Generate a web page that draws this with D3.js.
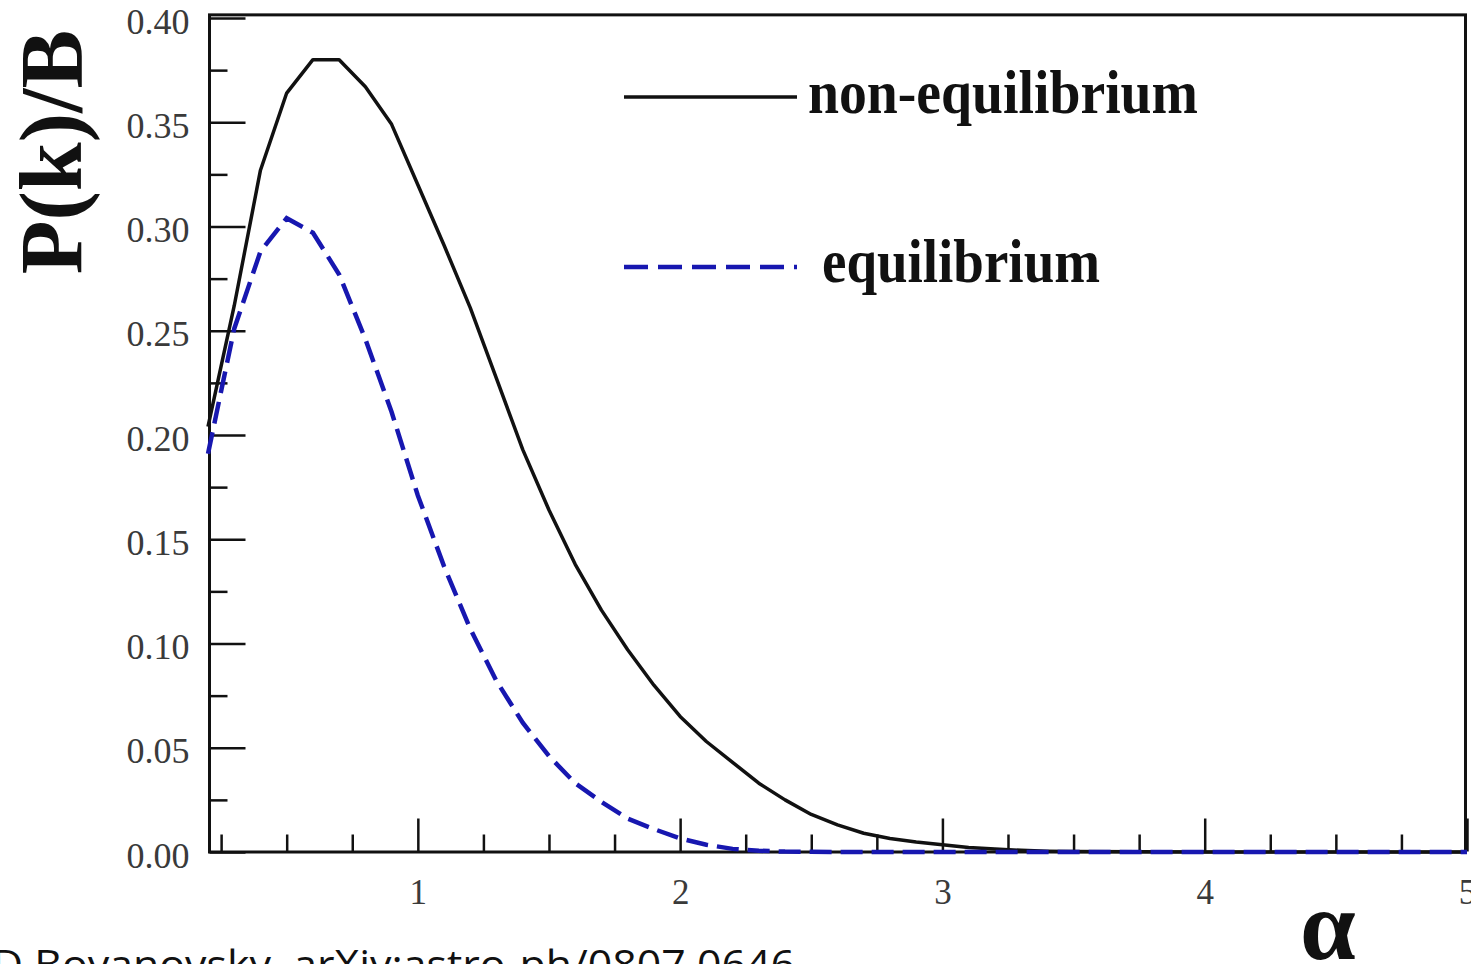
<!DOCTYPE html>
<html>
<head>
<meta charset="utf-8">
<script src="https://cdn.jsdelivr.net/npm/d3@7"></script>
<style>
  body { margin: 0; background: #fff; }
  svg { display: block; }
</style>
</head>
<body>
<div id="chart"></div>
<script>
// values
var alphaVals = [0.2, 0.3, 0.4, 0.5, 0.6, 0.7, 0.8, 0.9, 1.0, 1.1, 1.2, 1.3, 1.4, 1.5, 1.6, 1.7, 1.8, 1.9,
    2.0, 2.1, 2.2, 2.3, 2.4, 2.5, 2.6, 2.7, 2.8, 2.9, 3.0, 3.1, 3.2, 3.3, 3.4, 3.5, 4.0, 4.5, 5.0];
var nonEquilibrium = [0.204, 0.262, 0.327, 0.364, 0.380, 0.380, 0.367, 0.349, 0.320, 0.291, 0.261, 0.227, 0.193, 0.164,
    0.138, 0.116, 0.097, 0.080, 0.065, 0.053, 0.043, 0.033, 0.025, 0.018, 0.013, 0.009, 0.0065, 0.0048, 0.0035,
    0.0022, 0.0014, 0.0008, 0.0004, 0.0002, 0, 0, 0];
var equilibrium = [0.191, 0.251, 0.288, 0.304, 0.297, 0.277, 0.246, 0.211, 0.171, 0.137, 0.107, 0.082, 0.062, 0.046,
    0.033, 0.024, 0.016, 0.011, 0.0065, 0.0035, 0.0015, 0.0006, 0.0002, 0.0001, 0, 0, 0, 0, 0,
    0, 0, 0, 0, 0, 0, 0, 0];
var seriesNames = ["non-equilibrium", "equilibrium"];
var xMajorTicks = [1, 2, 3, 4, 5];
var xMinorTicks = [0.25, 0.5, 0.75, 1.25, 1.5, 1.75, 2.25, 2.5, 2.75, 3.25, 3.5, 3.75, 4.25, 4.5, 4.75];
var yMajorTicks = [0, 0.05, 0.10, 0.15, 0.20, 0.25, 0.30, 0.35, 0.40];
var yMinorTicks = [0.025, 0.075, 0.125, 0.175, 0.225, 0.275, 0.325, 0.375];

var W = 1471, H = 964;
var plot = {left: 208, right: 1467, top: 18, bottom: 852};

var svg = d3.select("#chart").append("svg")
    .attr("width", W)
    .attr("height", H);

var x = d3.scaleLinear().domain([0.2, 5]).range([plot.left, plot.right]);
var y = d3.scaleLinear().domain([0, 0.4]).range([plot.bottom, plot.top]);

// frame
svg.append("rect")
    .attr("x", x(0.2) + 1.5)
    .attr("y", y(0.4015))
    .attr("width", x(5) - x(0.2) - 3)
    .attr("height", y(0) - y(0.4015))
    .attr("fill", "none")
    .attr("stroke", "#111")
    .attr("stroke-width", 3);

// y axis, ticks pointing inside
var yAxis = svg.append("g")
    .attr("class", "y axis")
    .attr("transform", "translate(" + (x(0.2) + 1.5) + ",0)")
    .call(d3.axisLeft(y).tickValues(yMajorTicks).tickSize(-36).tickPadding(20).tickFormat(d3.format(".2f")));
yAxis.select(".domain").remove();
yAxis.selectAll("line").attr("stroke", "#111").attr("stroke-width", 2.5);
yAxis.selectAll("text")
    .attr("font-family", "Liberation Serif, serif")
    .attr("font-size", 36)
    .attr("fill", "#3a3a3a")
    .attr("dy", "0.42em");

var yAxisMinor = svg.append("g")
    .attr("transform", "translate(" + (x(0.2) + 1.5) + ",0)")
    .call(d3.axisLeft(y).tickValues(yMinorTicks).tickSize(-18).tickFormat(""));
yAxisMinor.select(".domain").remove();
yAxisMinor.selectAll("line").attr("stroke", "#111").attr("stroke-width", 2.5);

// x axis
var xAxis = svg.append("g")
    .attr("class", "x axis")
    .attr("transform", "translate(0," + (y(0) - 0.5) + ")")
    .call(d3.axisBottom(x).tickValues(xMajorTicks).tickSize(-33).tickPadding(28).tickFormat(d3.format("d")));
xAxis.select(".domain").remove();
xAxis.selectAll("line").attr("stroke", "#111").attr("stroke-width", 2.5);
xAxis.selectAll("text")
    .attr("font-family", "Liberation Serif, serif")
    .attr("font-size", 35)
    .attr("fill", "#3a3a3a");

var xAxisMinor = svg.append("g")
    .attr("transform", "translate(0," + (y(0) - 0.5) + ")")
    .call(d3.axisBottom(x).tickValues(xMinorTicks).tickSize(-17).tickFormat(""));
xAxisMinor.select(".domain").remove();
xAxisMinor.selectAll("line").attr("stroke", "#111").attr("stroke-width", 2.5);

// curves
var line = d3.line()
    .x(function(d) { return x(d[0]); })
    .y(function(d) { return y(d[1]); });

svg.append("path")
    .datum(d3.zip(alphaVals, nonEquilibrium))
    .attr("d", line)
    .attr("fill", "none")
    .attr("stroke", "#111")
    .attr("stroke-width", 3.5)
    .attr("stroke-linejoin", "round");

svg.append("path")
    .datum(d3.zip(alphaVals, equilibrium))
    .attr("d", line)
    .attr("fill", "none")
    .attr("stroke", "#1717b0")
    .attr("stroke-width", 4.5)
    .attr("stroke-dasharray", "22,9");

// legend
var legend = svg.append("g").attr("class", "legend");
legend.append("line")
    .attr("x1", 624).attr("x2", 797)
    .attr("y1", 97).attr("y2", 97)
    .attr("stroke", "#111")
    .attr("stroke-width", 3.5);
legend.append("line")
    .attr("x1", 624).attr("x2", 797)
    .attr("y1", 267).attr("y2", 267)
    .attr("stroke", "#1717b0")
    .attr("stroke-width", 4.5)
    .attr("stroke-dasharray", "24,10");
legend.append("text")
    .attr("x", 808).attr("y", 113)
    .attr("font-family", "Liberation Serif, serif")
    .attr("font-weight", "bold")
    .attr("font-size", 62)
    .attr("textLength", 390)
    .attr("lengthAdjust", "spacingAndGlyphs")
    .attr("fill", "#111")
    .text(seriesNames[0]);
legend.append("text")
    .attr("x", 822).attr("y", 282)
    .attr("font-family", "Liberation Serif, serif")
    .attr("font-weight", "bold")
    .attr("font-size", 62)
    .attr("textLength", 278)
    .attr("lengthAdjust", "spacingAndGlyphs")
    .attr("fill", "#111")
    .text(seriesNames[1]);

// axis titles
svg.append("text")
    .attr("transform", "translate(81,152) rotate(-90)")
    .attr("text-anchor", "middle")
    .attr("font-family", "Liberation Serif, serif")
    .attr("font-weight", "bold")
    .attr("font-size", 88)
    .attr("fill", "#111")
    .text("P(k)/B");

svg.append("text")
    .attr("x", 1328).attr("y", 959)
    .attr("text-anchor", "middle")
    .attr("font-family", "Liberation Serif, serif")
    .attr("font-weight", "bold")
    .attr("font-size", 100)
    .attr("fill", "#111")
    .text("α");

// source line, cut by the bottom edge
svg.append("text")
    .attr("x", -8).attr("y", 979)
    .attr("font-family", "Open Sans, sans-serif")
    .attr("font-size", 40)
    .attr("textLength", 803)
    .attr("lengthAdjust", "spacingAndGlyphs")
    .attr("fill", "#111")
    .text("D Boyanovsky, arXiv:astro-ph/0807.0646");
</script>
</body>
</html>
